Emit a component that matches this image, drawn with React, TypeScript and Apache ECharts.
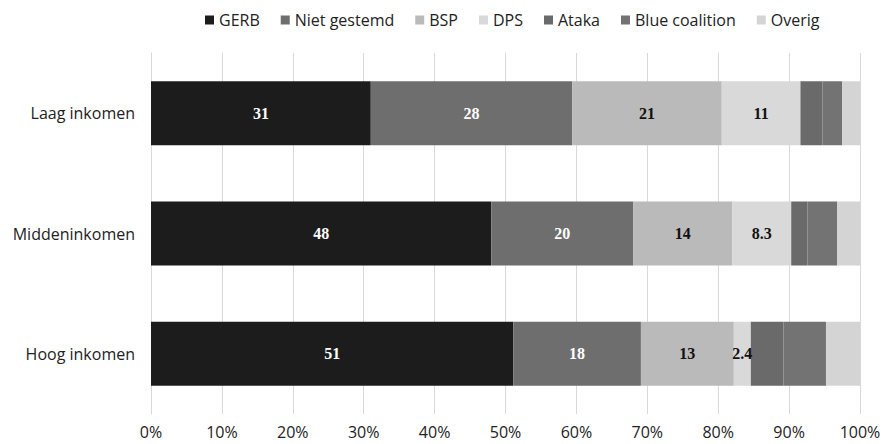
import React, { useEffect, useRef } from "react";
import * as echarts from "echarts";

const categories = ["Laag inkomen", "Middeninkomen", "Hoog inkomen"];
const seriesNames = ["GERB", "Niet gestemd", "BSP", "DPS", "Ataka", "Blue coalition", "Overig"];
const gerb = [31.0, 48.0, 51.1];
const nietGestemd = [28.4, 20.0, 18.0];
const bsp = [21.1, 14.0, 13.1];
const dps = [11.1, 8.3, 2.4];
const ataka = [3.1, 2.3, 4.6];
const blue = [2.8, 4.2, 6.0];
const overig = [2.5, 3.2, 4.8];
const tickLabels = ["0%", "10%", "20%", "30%", "40%", "50%", "60%", "70%", "80%", "90%", "100%"];

const colors = ["#1c1c1c", "#6e6e6e", "#bababa", "#d9d9d9", "#6a6a6a", "#737373", "#d4d4d4"];
const labelColors = ["#ffffff", "#ffffff", "#111111", "#111111", null, null, null];

export default function App() {
  const ref = useRef<HTMLDivElement>(null);
  useEffect(() => {
    if (!ref.current) return;
    const chart = echarts.init(ref.current, undefined, { renderer: "svg" });
    const data = [gerb, nietGestemd, bsp, dps, ataka, blue, overig];
    const font = "'Open Sans', Lato, sans-serif";
    chart.setOption({
      animation: false,
      legend: {
        top: 7,
        left: 200,
        itemWidth: 9,
        itemHeight: 9,
        itemGap: 21,
        icon: "rect",
        textStyle: { fontFamily: font, fontSize: 16, color: "#222" },
        data: seriesNames,
      },
      grid: { left: 151, right: 24, top: 53, bottom: 30, containLabel: false },
      xAxis: {
        type: "value",
        min: 0,
        max: 100,
        interval: 10,
        axisLine: { show: false },
        axisTick: { show: false },
        splitLine: { show: true, lineStyle: { color: "#d9d9d9", width: 1 } },
        axisLabel: {
          fontFamily: font,
          fontSize: 16,
          color: "#222",
          margin: 10,
          formatter: (v: number) => tickLabels[Math.round(v / 10)],
        },
      },
      yAxis: {
        type: "category",
        inverse: true,
        data: categories,
        axisLine: { show: true, lineStyle: { color: "#d9d9d9" } },
        axisTick: { show: false },
        axisLabel: { fontFamily: font, fontSize: 16, color: "#222", margin: 16 },
      },
      series: seriesNames.map((name, i) => ({
        name,
        type: "bar",
        stack: "total",
        barWidth: 64,
        data: data[i],
        itemStyle: { color: colors[i] },
        label: labelColors[i]
          ? {
              show: true,
              position: "inside",
              color: labelColors[i],
              fontFamily: "'Liberation Serif', serif",
              fontWeight: "bold",
              fontSize: 16,
              formatter: (p: any) => {
                const v = Number(p.value);
                return v >= 10 ? String(Math.round(v)) : v.toFixed(1);
              },
            }
          : { show: false },
      })),
    });
    return () => chart.dispose();
  }, []);
  return (
    <div
      ref={ref}
      style={{ position: "absolute", left: 0, top: 0, width: 884, height: 444 }}
    />
  );
}
